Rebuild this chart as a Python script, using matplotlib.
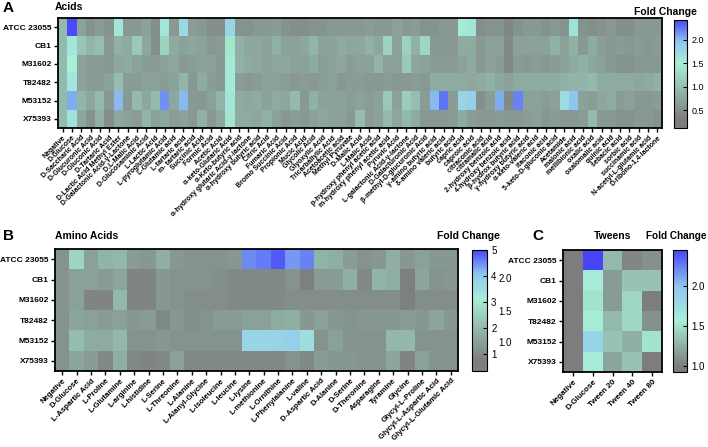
import matplotlib.pyplot as plt
import numpy as np
from matplotlib.colors import LinearSegmentedColormap

plt.rcParams['font.family'] = ['Liberation Sans', 'DejaVu Sans']

strains = ['ATCC 23055', 'CB1', 'M31602', 'T82482', 'M53152', 'X75393']

# --- A: acids ---
acids = ['Negative', 'D-Glucose', 'D-Saccharic Acid', 'D-Glucuronic Acid', 'D-Gluconic Acid',
         'D-Tartaric Acid', 'D-Lactic Acid Methyl Ester', 'D-Galactonic Acid-γ-Lactone',
         'D,L-Malic Acid', 'D-Glucosaminic Acid', 'L-Lactic Acid', 'L-pyroglutamic Acid',
         'L-Glutamic acid', 'L-tartaric acid', 'm- tartaric acid', 'Succinic Acid', 'Formic Acid',
         'Acetic Acid', 'α-keto-Glutaric Acid', 'α-Keto-butyric acid',
         'α-hydroxy glutaric Acid-γ-lactone', 'α-hydroxy butyric acid', 'Citric Acid',
         'Fumaric Acid', 'Bromo Succinic Acid', 'Propionic Acid', 'Mucic Acid', 'Glycolic Acid',
         'Glyoxylic Acid', 'Tricarballylic Acid', 'Acetoacetic acid', 'Methyl Pyruvate',
         'D-Malic Acid', 'L-Malic Acid', 'p-hydroxy phenyl acetic acid',
         'm-hydroxy phenyl acetic acid', 'Pyruvic Acid', 'L-galactonic Acid-γ-lactone',
         'D-Galacturonic Acid', 'β-methyl-D-glucuronic Acid', 'γ-amino butyric acid',
         'δ-amino valeric acid', 'butyric acid', 'capric acid', 'caproic acid',
         'citraconic acid', 'citramalic acid', '2-hydroxy benzoic acid',
         '4-hydroxy benzoic acid', 'β-hydrox butyric acid', 'γ-hydroxy butyric acid',
         'α-keto-valeric acid', 'itaconic acid', '5-keto-D-gluconic acid', 'Acetamide',
         'malonic acid', 'mellibionic acid', 'oxalic acid', 'oxalomalic acid', 'quinic acid',
         'sebacic acid', 'sorbic acid', 'succinamic acid', 'N-acetyl-L-glutamic acid',
         'D-ribono-1,4-lactone']

acid_atcc = [0.95, 2.4, 0.7, 0.55, 0.65, 0.55, 1.6, 0.6, 0.6, 0.7, 0.5, 1.6, 0.6, 1.75, 0.65, 0.6,
             0.5, 0.5, 1.8, 0.55, 0.55, 0.6, 0.6, 0.65, 0.55, 0.5, 0.5, 0.55, 0.55, 0.6, 0.6, 0.6,
             0.6, 0.65, 0.6, 0.6, 0.7, 0.6, 0.65, 0.55, 0.55, 0.6, 0.6, 1.55, 1.6, 0.5, 0.55, 0.55,
             0.4, 0.55, 0.6, 0.6, 0.55, 0.6, 0.55, 1.65, 0.55, 0.5, 0.55, 0.6, 0.5, 0.5, 0.6, 0.6, 0.6]
acid_cb1 = [0.95, 1.6, 1.05, 0.9, 1.0, 0.6, 0.85, 0.8, 1.1, 0.75, 0.5, 1.2, 0.8, 0.7, 0.75, 0.7,
            0.6, 0.65, 1.4, 0.85, 0.75, 0.75, 0.7, 0.85, 0.7, 0.7, 0.75, 0.9, 0.7, 0.7, 0.8, 0.75,
            0.75, 0.85, 0.75, 1.2, 0.7, 1.2, 0.85, 1.25, 0.6, 0.6, 0.6, 0.8, 0.8, 0.6, 0.7, 0.7,
            0.45, 0.7, 0.7, 0.7, 0.7, 0.85, 0.7, 0.85, 0.6, 0.8, 0.65, 0.6, 0.65, 0.6, 0.65, 0.6, 0.65]
acid_m31602 = [0.95, 1.5, 0.7, 0.65, 0.65, 0.6, 0.75, 0.8, 0.7, 0.65, 0.65, 0.7, 0.75, 0.6, 0.65,
               0.7, 0.7, 0.6, 1.55, 0.85, 0.8, 0.75, 0.7, 0.75, 0.75, 0.7, 0.7, 0.8, 0.65, 0.7, 0.75,
               0.65, 0.7, 0.7, 0.9, 0.7, 0.7, 1.1, 0.75, 0.7, 0.65, 0.65, 0.65, 0.7, 0.8, 0.6, 0.7,
               0.65, 0.45, 0.65, 0.6, 0.65, 0.6, 0.65, 0.7, 0.8, 0.85, 0.75, 0.7, 0.6, 0.55, 0.55,
               0.6, 0.6, 0.6]
acid_t82482 = [0.95, 1.6, 0.7, 0.65, 0.65, 0.7, 1.0, 0.65, 0.65, 0.7, 0.7, 0.65, 0.7, 0.9, 0.6,
               0.8, 0.65, 0.6, 1.55, 0.65, 0.6, 0.65, 0.7, 0.7, 0.65, 0.6, 0.65, 0.6, 0.65, 0.7, 0.6,
               0.65, 0.65, 0.6, 0.6, 0.65, 0.6, 0.6, 0.65, 0.6, 0.8, 0.8, 0.8, 0.8, 0.75, 0.8, 0.85,
               0.75, 0.7, 0.8, 0.8, 0.8, 0.8, 0.8, 0.85, 0.9, 0.9, 0.95, 0.8, 0.8, 0.8, 0.8, 0.75,
               0.8, 0.85]
acid_m53152 = [0.95, 2.05, 0.9, 0.75, 0.95, 0.6, 2.0, 0.6, 0.95, 0.75, 0.95, 2.15, 0.75, 2.0, 0.6,
               0.6, 0.7, 0.9, 1.6, 0.8, 0.75, 0.8, 0.7, 0.8, 0.75, 0.95, 0.6, 0.85, 0.7, 0.7, 0.7,
               0.65, 0.7, 0.65, 0.7, 1.1, 0.7, 1.15, 1.0, 0.65, 2.0, 2.25, 0.65, 1.8, 1.85, 0.5,
               0.65, 2.05, 0.45, 2.2, 0.7, 0.7, 0.65, 0.7, 1.7, 1.95, 0.7, 0.65, 0.75, 0.8, 0.65,
               0.7, 0.6, 0.6, 0.65]
acid_x75393 = [0.95, 1.65, 0.75, 0.55, 0.85, 0.5, 0.75, 0.7, 0.65, 0.9, 0.7, 0.75, 0.65, 0.7, 0.6,
               0.85, 0.6, 0.75, 1.4, 0.8, 0.8, 0.75, 0.85, 0.7, 0.6, 0.65, 0.6, 0.7, 0.75, 0.7, 0.7,
               0.6, 1.0, 0.65, 0.7, 0.95, 0.75, 0.95, 0.8, 0.6, 0.6, 0.6, 0.65, 0.8, 0.65, 0.6, 0.6,
               0.65, 0.6, 0.6, 0.65, 0.7, 0.6, 0.65, 0.6, 0.6, 0.65, 0.95, 0.6, 0.6, 0.55, 0.55, 0.6,
               0.6, 0.55]

# --- B: amino acids ---
aminos = ['Negative', 'D-Glucose', 'L-Aspartic Acid', 'L-Proline', 'L-Glutamine', 'L-arginine',
          'L-histidine', 'L-Serine', 'L-Threonine', 'L-Alanine', 'L-Alanyl-Glycine',
          'L-isoleucine', 'L-leucine', 'L-lysine', 'L-methionine', 'L-Ornithine',
          'L-Phenylalanine', 'L-valine', 'D-Aspartic Acid', 'D-Alanine', 'D-Serine',
          'D-Theronine', 'Asparagine', 'Tyramine', 'Glycine', 'Glycyl-L-Proline',
          'Glycyl-L-Aspartic Acid', 'Glycyl-L-Glutamic Acid']

amino_atcc = [1.2, 2.6, 1.5, 1.9, 2.0, 1.4, 1.3, 1.8, 1.3, 1.2, 1.2, 1.2, 1.3, 4.5, 4.6, 4.85, 4.4,
              4.55, 1.9, 1.8, 1.4, 1.2, 1.3, 1.8, 1.3, 1.5, 1.3, 1.3]
amino_cb1 = [1.2, 1.5, 1.5, 1.4, 1.6, 0.9, 0.9, 1.3, 1.2, 1.2, 1.2, 1.1, 1.0, 1.0, 1.0, 1.0, 1.2,
             0.8, 1.4, 1.4, 1.8, 1.0, 1.9, 1.8, 0.8, 1.6, 1.2, 1.3]
amino_m31602 = [1.2, 1.5, 0.9, 0.9, 2.0, 0.9, 0.9, 1.3, 1.2, 1.1, 1.1, 1.1, 1.0, 1.0, 1.0, 1.0,
                1.1, 1.1, 1.1, 1.1, 1.1, 1.1, 1.1, 1.1, 0.8, 1.1, 1.1, 1.1]
amino_t82482 = [1.2, 1.6, 1.5, 1.4, 1.5, 1.3, 1.4, 1.0, 1.3, 1.1, 1.2, 1.4, 1.4, 1.5, 1.5, 1.7,
                1.8, 1.3, 1.5, 1.3, 1.2, 1.3, 1.3, 1.3, 1.4, 1.3, 1.6, 1.3]
amino_m53152 = [1.2, 2.1, 1.7, 1.7, 2.0, 1.2, 1.2, 1.3, 1.2, 1.2, 1.2, 1.2, 1.2, 3.7, 3.7, 3.75,
                3.85, 3.5, 1.2, 1.5, 1.2, 1.2, 1.2, 2.0, 2.0, 1.2, 1.2, 1.2]
amino_x75393 = [1.2, 1.6, 1.4, 1.0, 1.8, 1.0, 0.9, 1.0, 1.5, 1.0, 1.0, 1.0, 1.0, 1.0, 1.0, 1.0,
                1.2, 1.0, 1.4, 1.3, 1.3, 1.2, 1.2, 1.6, 0.9, 1.5, 1.2, 1.2]

# --- C: tweens ---
tweens = ['Negative', 'D-Glucose', 'Tween 20', 'Tween 40', 'Tween 80']
tween_atcc = [1.0, 2.45, 1.3, 1.05, 1.1]
tween_cb1 = [1.0, 1.6, 1.15, 1.35, 1.35]
tween_m31602 = [1.0, 1.5, 1.15, 1.45, 1.0]
tween_t82482 = [1.0, 1.6, 1.3, 1.45, 1.1]
tween_m53152 = [1.0, 1.85, 1.35, 1.25, 1.5]
tween_x75393 = [1.0, 1.6, 1.2, 1.35, 1.0]

GRAY, MINT, LBLUE, BLUE = '#7d7d7d', '#a8efd6', '#90c6ef', '#4646f8'
cmap_ab = LinearSegmentedColormap.from_list(
    'fold_ab', [(0.0, GRAY), (0.08, GRAY), (0.6, MINT), (0.8, LBLUE), (1.0, BLUE)])
cmap_c = LinearSegmentedColormap.from_list(
    'fold_c', [(0.0, GRAY), (0.05, GRAY), (0.42, MINT), (0.7, LBLUE), (1.0, BLUE)])

W, H = 708, 447
fig = plt.figure(figsize=(W / 100, H / 100), dpi=100)


def rect(x0, y0, x1, y1):
    return [x0 / W, 1 - y1 / H, (x1 - x0) / W, (y1 - y0) / H]


def heat(box, cbox, data, xlabels, vmin, vmax, cticks, xfs, cmap, cfs=7):
    ax = fig.add_axes(rect(*box))
    im = ax.imshow(np.array(data), cmap=cmap, vmin=vmin, vmax=vmax, aspect='auto',
                   interpolation='nearest')
    ax.set_yticks(range(len(strains)))
    ax.set_yticklabels(strains, fontsize=6, fontweight='bold')
    ax.set_xticks(range(len(xlabels)))
    ax.set_xticklabels(xlabels, rotation=45, ha='right', rotation_mode='anchor',
                       fontsize=xfs, fontweight='bold')
    ax.tick_params(length=3, width=1, pad=1.5)
    for s in ax.spines.values():
        s.set_linewidth(1.3)
    cax = fig.add_axes(rect(*cbox))
    cb = fig.colorbar(im, cax=cax, ticks=cticks)
    cb.outline.set_linewidth(0.8)
    cax.tick_params(left=False, right=True, labelleft=False, labelright=True,
                    direction='in', length=3, width=0.8, labelsize=cfs, pad=3)
    return ax, cax


heat((58, 18, 662, 128), (674, 20, 687, 128),
     [acid_atcc, acid_cb1, acid_m31602, acid_t82482, acid_m53152, acid_x75393],
     acids, 0.12, 2.42, [0.5, 1.0, 1.5, 2.0], 5.0, cmap_ab, cfs=6.5)
heat((55, 249, 458, 371), (472, 250, 487, 371),
     [amino_atcc, amino_cb1, amino_m31602, amino_t82482, amino_m53152, amino_x75393],
     aminos, 0.35, 5.0, [1, 2, 3, 4, 5], 5.6, cmap_ab)
heat((563, 250, 662, 372), (673, 250, 687, 372),
     [tween_atcc, tween_cb1, tween_m31602, tween_t82482, tween_m53152, tween_x75393],
     tweens, 0.92, 2.45, [1.0, 1.5, 2.0], 5.8, cmap_c)

# leftover labels beside the amino acid colour bar
for lab, yy in [('2.0', 279), ('1.5', 312), ('1.0', 343)]:
    fig.text(505 / W, 1 - yy / H, lab, fontsize=7, ha='center', va='center')

bold = dict(fontweight='bold', va='center')
fig.text(3 / W, 1 - 8 / H, 'A', fontsize=11, **bold)
fig.text(55 / W, 1 - 7 / H, 'Acids', fontsize=7.5, **bold)
fig.text(665 / W, 1 - 12 / H, 'Fold Change', fontsize=7.5, ha='center', **bold)
fig.text(3 / W, 1 - 236 / H, 'B', fontsize=11, **bold)
fig.text(55 / W, 1 - 236 / H, 'Amino Acids', fontsize=7.5, **bold)
fig.text(468 / W, 1 - 236 / H, 'Fold Change', fontsize=7.5, ha='center', **bold)
fig.text(532 / W, 1 - 236 / H, 'C', fontsize=11, **bold)
fig.text(613 / W, 1 - 236 / H, 'Tweens', fontsize=7.5, ha='center', **bold)
fig.text(706 / W, 1 - 236 / H, 'Fold Change', fontsize=7.2, ha='right', **bold)

fig.savefig('out.png', dpi=100)
